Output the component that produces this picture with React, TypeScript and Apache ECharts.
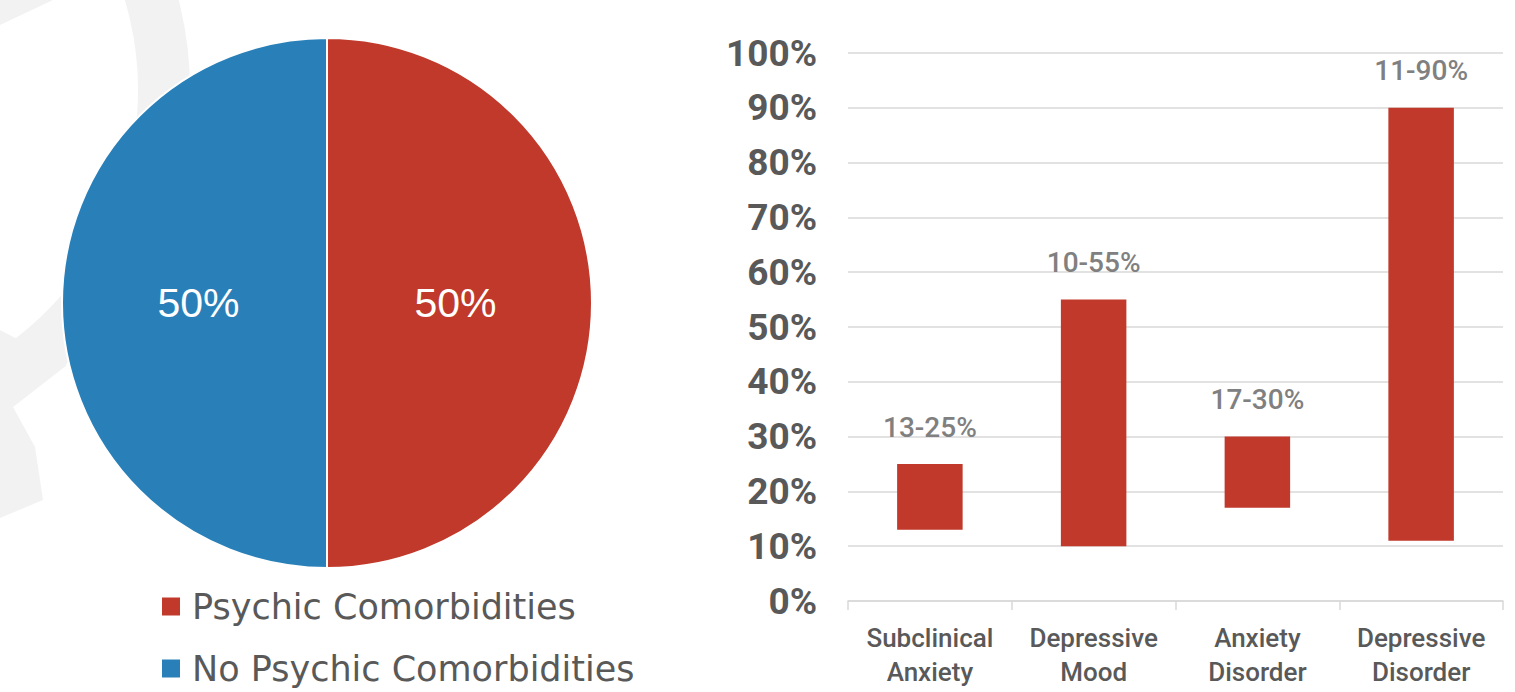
import React, { useEffect, useRef } from "react";
import * as echarts from "echarts";

const pieNames = ["Psychic Comorbidities", "No Psychic Comorbidities"];
const pieValues = [50, 50];
const pieColors = ["#C0392B", "#2980B9"];

const categories = [
  "Subclinical\nAnxiety",
  "Depressive\nMood",
  "Anxiety\nDisorder",
  "Depressive\nDisorder",
];
const lows = [13, 10, 17, 11];
const highs = [25, 55, 30, 90];
const barColor = "#C0392B";

const AXISFONT = "Roboto, 'DejaVu Sans Condensed', sans-serif";

export default function App() {
  const ref = useRef<HTMLDivElement>(null);
  useEffect(() => {
    if (!ref.current) return;
    const chart = echarts.init(ref.current, undefined, { renderer: "svg" });
    const ranges = highs.map((h, i) => h - lows[i]);
    chart.setOption({
      animation: false,
      backgroundColor: "#ffffff",
      graphic: [
        {
          type: "arc",
          z: -10,
          silent: true,
          shape: { cx: -175, cy: 90, r: 339, startAngle: -0.6, endAngle: 0.95, clockwise: true },
          style: { stroke: "#f2f2f2", lineWidth: 52, fill: null },
        },
        {
          type: "polygon",
          z: -10,
          silent: true,
          shape: { points: [[0, 330], [67, 365], [13, 407], [35, 447], [43, 500], [0, 518]] },
          style: { fill: "#f2f2f2" },
        },
        {
          type: "polygon",
          z: -10,
          silent: true,
          shape: { points: [[0, 0], [53, 0], [0, 25]] },
          style: { fill: "#f2f2f2" },
        },
      ],
      legend: {
        orient: "vertical",
        left: 160,
        top: 589,
        height: 200,
        padding: 0,
        itemWidth: 20,
        itemHeight: 20,
        itemGap: 27,
        icon: "rect",
        data: pieNames,
        textStyle: {
          fontFamily: "'DejaVu Sans', sans-serif",
          fontSize: 35,
          color: "#595959",
          padding: [0, 0, 0, 6],
        },
      },
      grid: { left: 848, right: 12, top: 53, bottom: 91, containLabel: false },
      xAxis: {
        type: "category",
        data: categories,
        axisLine: { show: true, lineStyle: { color: "#d9d9d9", width: 1.5 } },
        axisTick: { show: true, length: 9, lineStyle: { color: "#d9d9d9", width: 1.5 } },
        axisLabel: {
          fontFamily: AXISFONT,
          fontWeight: 500,
          fontSize: 26,
          lineHeight: 34,
          color: "#595959",
          margin: 20,
          interval: 0,
        },
      },
      yAxis: {
        type: "value",
        min: 0,
        max: 100,
        interval: 10,
        axisLine: { show: false },
        axisTick: { show: false },
        splitLine: { lineStyle: { color: "#d9d9d9", width: 1.5 } },
        axisLabel: {
          formatter: "{value}%",
          fontFamily: AXISFONT,
          fontWeight: "bold",
          fontSize: 37,
          color: "#595959",
          margin: 31,
        },
      },
      series: [
        {
          type: "pie",
          center: [327, 303],
          radius: 265,
          startAngle: 90,
          clockwise: true,
          data: pieNames.map((n, i) => ({
            name: n,
            value: pieValues[i],
            itemStyle: { color: pieColors[i] },
            label: { padding: i === 0 ? [0, 14, 0, 0] : [0, 0, 0, 14] },
          })),
          itemStyle: { borderColor: "#ffffff", borderWidth: 2 },
          label: {
            show: true,
            position: "inside",
            formatter: "{c}%",
            fontFamily: "'Liberation Sans', Arial, sans-serif",
            fontSize: 41,
            color: "#ffffff",
          },
          labelLine: { show: false },
          emphasis: { disabled: true },
        },
        {
          type: "bar",
          stack: "range",
          data: lows,
          itemStyle: { color: "transparent" },
          barWidth: "40%",
          silent: true,
        },
        {
          type: "bar",
          stack: "range",
          data: ranges,
          barWidth: "40%",
          itemStyle: { color: barColor },
          label: {
            show: true,
            position: "top",
            distance: 23,
            formatter: (p: any) => `${lows[p.dataIndex]}-${highs[p.dataIndex]}%`,
            fontFamily: AXISFONT,
            fontWeight: 500,
            fontSize: 28,
            color: "#808080",
          },
        },
      ],
    });
    return () => chart.dispose();
  }, []);
  return (
    <div
      ref={ref}
      style={{ position: "fixed", left: 0, top: 0, width: 1515, height: 692 }}
    />
  );
}
